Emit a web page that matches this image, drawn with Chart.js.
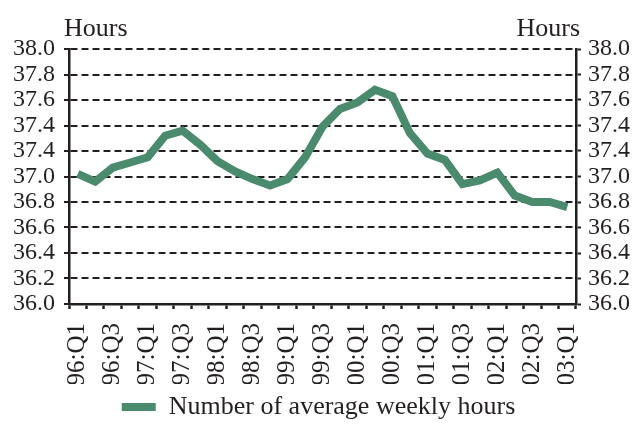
<!DOCTYPE html>
<html>
<head>
<meta charset="utf-8">
<script src="https://cdn.jsdelivr.net/npm/chart.js@4/dist/chart.umd.min.js"></script>
<style>
    html, body { margin: 0; padding: 0; background: #fff; }
    #wrap { width: 637px; height: 447px; }
</style>
</head>
<body>
<div id="wrap"><canvas id="hoursChart" width="637" height="447"></canvas></div>
<script>
// Quarters 96:Q1 .. 03:Q1
const quarters = [
    "96:Q1", "96:Q2", "96:Q3", "96:Q4",
    "97:Q1", "97:Q2", "97:Q3", "97:Q4",
    "98:Q1", "98:Q2", "98:Q3", "98:Q4",
    "99:Q1", "99:Q2", "99:Q3", "99:Q4",
    "00:Q1", "00:Q2", "00:Q3", "00:Q4",
    "01:Q1", "01:Q2", "01:Q3", "01:Q4",
    "02:Q1", "02:Q2", "02:Q3", "02:Q4",
    "03:Q1"
];

const weeklyHours = [
    37.02, 36.96, 37.07, 37.11, 37.15, 37.32, 37.36, 37.25,
    37.12, 37.04, 36.98, 36.93, 36.98, 37.15, 37.39, 37.53,
    37.58, 37.68, 37.63, 37.34, 37.18, 37.13, 36.94, 36.97,
    37.03, 36.85, 36.80, 36.80, 36.76
];

// tick labels as printed on the original (note the repeated 37.4)
const yTickLabels = ["36.0", "36.2", "36.4", "36.6", "36.8", "37.0", "37.4", "37.4", "37.6", "37.8", "38.0"];

const seriesName = "Number of average weekly hours";
const unitLabel = "Hours";

const green = "#4b8b6d";
const ink = "#231f20";
const serif = "'Liberation Serif', 'Times New Roman', serif";

// "Hours" above both axes
const unitTitles = {
    id: "unitTitles",
    afterDraw(chart) {
        const ctx = chart.ctx;
        const area = chart.chartArea;
        ctx.save();
        ctx.fillStyle = ink;
        ctx.font = "26px " + serif;
        ctx.textBaseline = "alphabetic";
        ctx.textAlign = "left";
        ctx.fillText(unitLabel, area.left - 5, area.top - 13);
        ctx.textAlign = "right";
        ctx.fillText(unitLabel, area.right + 4, area.top - 13);
        ctx.restore();
    }
};

const yCommon = {
    min: 36,
    max: 38,
    ticks: {
        stepSize: 0.2,
        autoSkip: false,
        color: ink,
        font: { family: serif, size: 24 },
        callback: (value, index) => yTickLabels[index]
    }
};

new Chart(document.getElementById("hoursChart"), {
    type: "line",
    data: {
        labels: quarters,
        datasets: [{
            label: seriesName,
            data: weeklyHours,
            borderColor: green,
            backgroundColor: green,
            borderWidth: 8,
            pointRadius: 0,
            tension: 0,
            fill: false,
            borderJoinStyle: "miter",
            borderCapStyle: "butt"
        }]
    },
    options: {
        responsive: false,
        animation: false,
        layout: { padding: { top: 49, left: 0, right: 0, bottom: 17 } },
        plugins: {
            legend: {
                position: "bottom",
                labels: {
                    color: ink,
                    font: { family: serif, size: 26 },
                    boxWidth: 34,
                    boxHeight: 8,
                    padding: 10,
                    // plain filled swatch, no outline
                    generateLabels: (chart) =>
                        Chart.defaults.plugins.legend.labels.generateLabels(chart)
                            .map(item => ({ ...item, lineWidth: 0 }))
                }
            },
            tooltip: { enabled: false }
        },
        scales: {
            x: {
                offset: true,
                grid: {
                    offset: true,
                    drawOnChartArea: false,
                    drawTicks: true,
                    tickLength: 5,
                    tickWidth: 2.5,
                    tickColor: ink
                },
                border: { display: true, color: ink, width: 2.5 },
                ticks: {
                    autoSkip: false,
                    maxRotation: 90,
                    minRotation: 90,
                    padding: 14,
                    color: ink,
                    font: { family: serif, size: 25 },
                    callback: (value, index) => index % 2 === 0 ? quarters[index] : ""
                },
                afterFit: (scale) => { scale.height = 80; }
            },
            y: {
                ...yCommon,
                position: "left",
                grid: {
                    color: ink,
                    lineWidth: 2,
                    drawTicks: true,
                    tickLength: 5,
                    tickWidth: 2,
                    tickColor: ink,
                    tickBorderDash: []
                },
                border: { display: true, color: ink, width: 2.5, dash: [7, 4] },
                ticks: { ...yCommon.ticks, padding: 9 },
                afterFit: (scale) => { scale.width = 69; }
            },
            y2: {
                ...yCommon,
                position: "right",
                grid: {
                    drawOnChartArea: false,
                    drawTicks: true,
                    tickLength: 5,
                    tickWidth: 2,
                    tickColor: ink
                },
                border: { display: true, color: ink, width: 2.5 },
                ticks: { ...yCommon.ticks, padding: 7 },
                afterFit: (scale) => { scale.width = 61; }
            }
        }
    },
    plugins: [unitTitles]
});
</script>
</body>
</html>
